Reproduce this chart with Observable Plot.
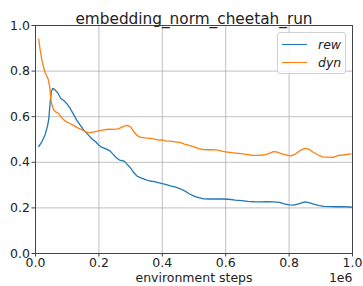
<!DOCTYPE html>
<html>
<head>
<meta charset="utf-8">
<script src="https://cdn.jsdelivr.net/npm/d3@7"></script>
<script src="https://cdn.jsdelivr.net/npm/@observablehq/plot@0.6"></script>
<style>
  html, body { margin: 0; padding: 0; background: #fff; }
  #wrap { position: relative; width: 363px; height: 286px; font-family: "DejaVu Sans", sans-serif; }
  #legend { position: absolute; left: 277px; top: 32px; width: 69px; height: 42px;
    background: rgba(255,255,255,0.8); border: 1px solid #d0d0d0; border-radius: 3px; box-sizing: border-box; }
  .item { position: absolute; left: 4px; height: 14px; display: flex; align-items: center; }
  .item span.sw { display: inline-block; width: 25px; height: 0; border-top: 1.5px solid; }
  .item span.lb { margin-left: 11px; font-style: italic; font-size: 12.5px; color: #222; }
</style>
</head>
<body>
<div id="wrap"></div>
<script>
const title = "embedding_norm_cheetah_run";
const xLabel = "environment steps";
const xExp = "1e6";
const seriesNames = ["rew", "dyn"];
const seriesColors = ["#1f77b4", "#ff7f0e"];
const xTicks = [0, 200000, 400000, 600000, 800000, 1000000];
const yTicks = [0, 0.2, 0.4, 0.6, 0.8, 1.0];

const rewSteps = [0.010,0.020,0.030,0.038,0.042,0.046,0.050,0.054,0.060,0.070,0.080,0.090,0.100,0.110,0.120,0.130,0.140,0.150,0.160,0.170,0.180,0.190,0.200,0.210,0.220,0.235,0.245,0.255,0.265,0.280,0.290,0.300,0.310,0.320,0.330,0.345,0.360,0.375,0.390,0.400,0.410,0.425,0.440,0.455,0.470,0.485,0.500,0.515,0.530,0.550,0.570,0.590,0.610,0.630,0.650,0.670,0.690,0.710,0.730,0.750,0.770,0.785,0.800,0.815,0.830,0.850,0.865,0.880,0.895,0.910,0.930,0.950,0.970,0.990,1.000];
const rewValues = [0.469,0.49,0.52,0.56,0.59,0.66,0.71,0.724,0.72,0.705,0.68,0.67,0.655,0.635,0.61,0.585,0.565,0.545,0.53,0.515,0.50,0.49,0.475,0.465,0.46,0.45,0.435,0.42,0.41,0.405,0.39,0.375,0.355,0.34,0.333,0.325,0.318,0.315,0.31,0.306,0.303,0.297,0.292,0.285,0.275,0.262,0.252,0.245,0.240,0.239,0.240,0.239,0.238,0.234,0.232,0.229,0.227,0.226,0.227,0.226,0.224,0.218,0.213,0.212,0.218,0.226,0.222,0.216,0.21,0.207,0.206,0.205,0.206,0.204,0.203];

const dynSteps = [0.010,0.015,0.020,0.025,0.030,0.035,0.040,0.045,0.048,0.052,0.058,0.065,0.073,0.080,0.090,0.100,0.110,0.120,0.130,0.140,0.150,0.160,0.170,0.180,0.190,0.200,0.215,0.230,0.245,0.260,0.270,0.280,0.290,0.300,0.310,0.320,0.330,0.345,0.360,0.375,0.390,0.400,0.410,0.425,0.440,0.455,0.470,0.485,0.500,0.515,0.530,0.545,0.560,0.575,0.590,0.605,0.620,0.640,0.660,0.680,0.700,0.720,0.740,0.750,0.760,0.775,0.790,0.805,0.820,0.835,0.850,0.862,0.875,0.890,0.905,0.920,0.940,0.955,0.970,0.985,0.995];
const dynValues = [0.94,0.89,0.85,0.82,0.795,0.78,0.765,0.73,0.68,0.65,0.628,0.62,0.615,0.60,0.585,0.576,0.569,0.562,0.553,0.547,0.54,0.533,0.529,0.532,0.535,0.538,0.542,0.545,0.544,0.547,0.552,0.559,0.562,0.555,0.535,0.518,0.51,0.507,0.505,0.502,0.497,0.498,0.494,0.493,0.490,0.487,0.48,0.474,0.468,0.46,0.456,0.455,0.456,0.453,0.448,0.445,0.442,0.439,0.436,0.431,0.43,0.432,0.440,0.447,0.446,0.438,0.433,0.428,0.436,0.452,0.461,0.458,0.445,0.433,0.424,0.423,0.422,0.43,0.432,0.435,0.437];

const data = [
  ...rewSteps.map((s, i) => ({step: s * 1e6, value: rewValues[i], series: seriesNames[0]})),
  ...dynSteps.map((s, i) => ({step: s * 1e6, value: dynValues[i], series: seriesNames[1]}))
];

const chart = Plot.plot({
  width: 363,
  height: 286,
  marginLeft: 35,
  marginRight: 11,
  marginTop: 25,
  marginBottom: 33,
  style: {fontFamily: "DejaVu Sans, sans-serif", fontSize: "12.5px", color: "#222", background: "#fff"},
  x: {domain: [0, 1e6]},
  y: {domain: [0, 1]},
  color: {domain: seriesNames, range: seriesColors},
  marks: [
    Plot.gridX(xTicks, {stroke: "#b0b0b0", strokeOpacity: 1, strokeWidth: 0.8}),
    Plot.gridY(yTicks, {stroke: "#b0b0b0", strokeOpacity: 1, strokeWidth: 0.8}),
    Plot.line(data, {x: "step", y: "value", z: "series", stroke: "series", strokeWidth: 1.3}),
    Plot.frame({stroke: "#444", strokeWidth: 1}),
    Plot.axisX({ticks: xTicks, tickFormat: d => (d / 1e6).toFixed(1), tickSize: 3.5, tickPadding: 1.5, label: null, fontSize: 12.5, stroke: "#444"}),
    Plot.axisY({ticks: yTicks, tickFormat: d => d.toFixed(1), tickSize: 3.5, tickPadding: 2, label: null, fontSize: 12.5, stroke: "#444"}),
    Plot.text([title], {text: d => d, frameAnchor: "top", dy: -12.5, fontSize: 15.3, fill: "#222"}),
    Plot.text([xLabel], {text: d => d, frameAnchor: "bottom", dy: 28.5, fontSize: 12.5, fill: "#222"}),
    Plot.text([xExp], {text: d => d, frameAnchor: "bottom-right", textAnchor: "end", dy: 28.5, fontSize: 12.5, fill: "#222"})
  ]
});

const wrap = document.getElementById("wrap");
wrap.appendChild(chart);

const legend = document.createElement("div");
legend.id = "legend";
seriesNames.forEach((name, i) => {
  const item = document.createElement("div");
  item.className = "item";
  item.style.top = (i === 0 ? 4 : 22) + "px";
  item.innerHTML = `<span class="sw" style="border-color:${seriesColors[i]}"></span><span class="lb">${name}</span>`;
  legend.appendChild(item);
});
wrap.appendChild(legend);
</script>
</body>
</html>
